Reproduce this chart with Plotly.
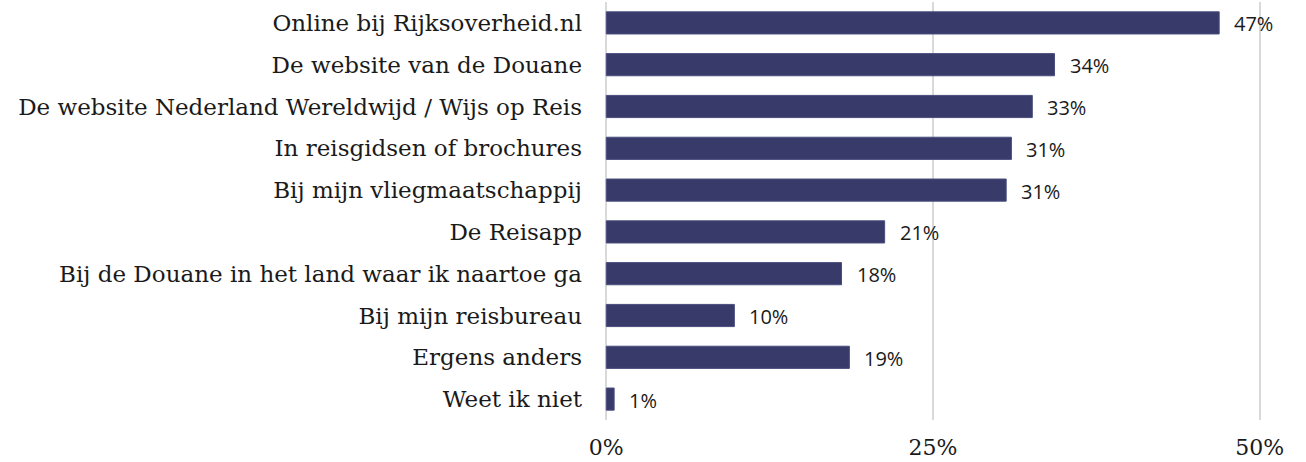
import plotly.graph_objects as go

categories = [
    "Online bij Rijksoverheid.nl",
    "De website van de Douane",
    "De website Nederland Wereldwijd / Wijs op Reis",
    "In reisgidsen of brochures",
    "Bij mijn vliegmaatschappij",
    "De Reisapp",
    "Bij de Douane in het land waar ik naartoe ga",
    "Bij mijn reisbureau",
    "Ergens anders",
    "Weet ik niet",
]
values = [46.9, 34.3, 32.6, 31.0, 30.6, 21.3, 18.0, 9.8, 18.6, 0.6]
labels = ["47%", "34%", "33%", "31%", "31%", "21%", "18%", "10%", "19%", "1%"]
tick_vals = [0, 25, 50]
tick_text = ["0%", "25%", "50%"]

fig = go.Figure()
fig.add_trace(go.Bar(
    x=values, y=categories, orientation="h",
    marker=dict(color="#383b69", line=dict(color="#4a4e7e", width=1)),
    width=0.53, hoverinfo="skip",
))
for c, v, t in zip(categories, values, labels):
    fig.add_annotation(x=v, y=c, text=t, showarrow=False,
                       xanchor="left", xshift=13, yshift=-1,
                       font=dict(family="Open Sans", size=20, color="#1a1a1a"))

fig.update_layout(
    width=1306, height=462,
    margin=dict(l=605, r=45, t=2, b=42, autoexpand=False),
    paper_bgcolor="white", plot_bgcolor="white",
    showlegend=False,
)
fig.update_xaxes(range=[-0.1, 50.1], tickvals=tick_vals, ticktext=tick_text,
                 showgrid=True, gridcolor="#d9d9d9", gridwidth=1.5,
                 zeroline=False, showline=False, ticks="", ticklabelstandoff=12,
                 automargin=False,
                 tickfont=dict(family="DejaVu Serif", size=22, color="#1a1a1a"))
fig.update_yaxes(autorange="reversed", showgrid=False, zeroline=False,
                 ticks="", ticklabelstandoff=22, automargin=False,
                 tickfont=dict(family="DejaVu Serif", size=23, color="#1a1a1a"))
fig.write_html("out.html", config={"displayModeBar": False},
               post_script="document.body.style.margin='0';")
